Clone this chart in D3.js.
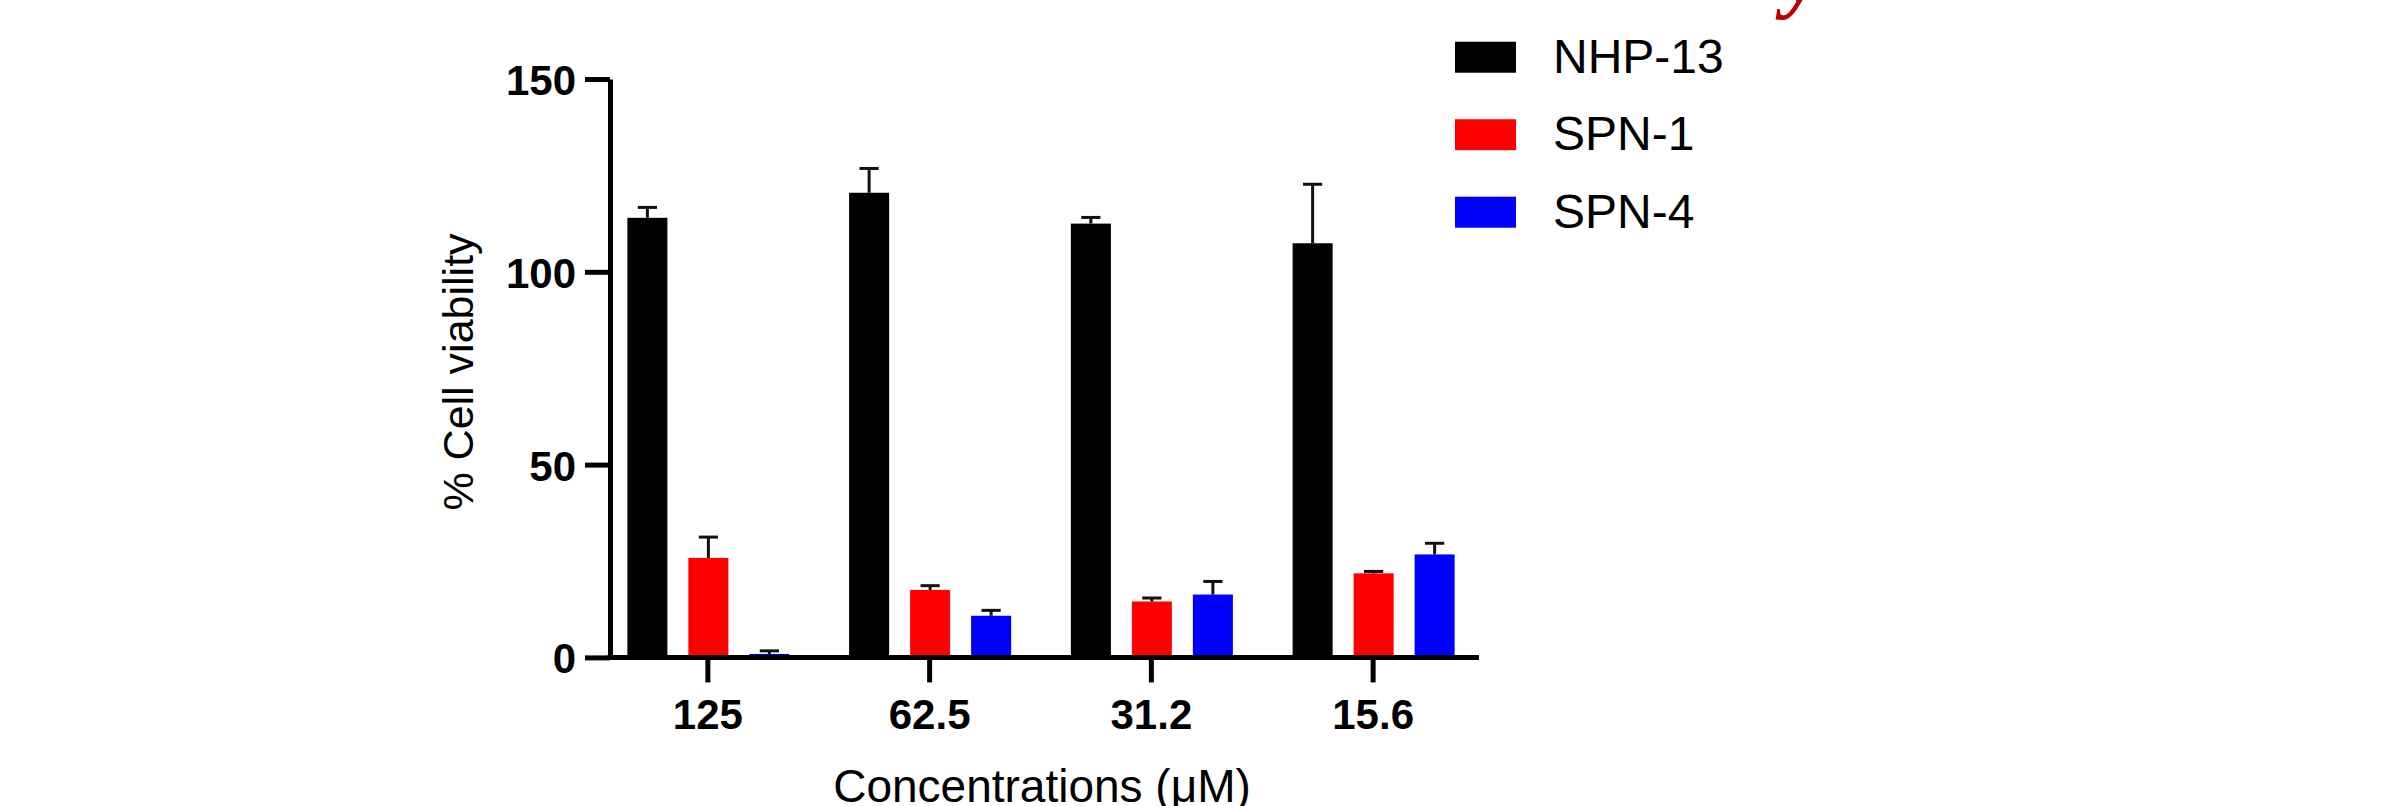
<!DOCTYPE html>
<html>
<head>
<meta charset="utf-8">
<script src="https://cdn.jsdelivr.net/npm/d3@7"></script>
<style>
  body { margin: 0; background: #fff; }
  svg { display: block; }
</style>
</head>
<body>
<div id="chart"></div>
<script>
const concentrations = ['125', '62.5', '31.2', '15.6'];
const seriesNames = ['NHP-13', 'SPN-1', 'SPN-4'];
const seriesColors = ['#000000', '#ff0000', '#0000ff'];

// mean values per concentration, one array per series
const nhp13 = [114.0, 120.5, 112.5, 107.4];
const spn1 = [25.8, 17.5, 14.5, 21.8];
const spn4 = [0.9, 10.8, 16.3, 26.7];

// upper error (SD) per concentration
const nhp13Err = [2.7, 6.3, 1.6, 15.3];
const spn1Err = [5.4, 1.1, 0.9, 0.5];
const spn4Err = [0.8, 1.4, 3.4, 2.9];

const yTicks = [0, 50, 100, 150];

const width = 2382;
const height = 806;

const means = [nhp13, spn1, spn4];
const errs = [nhp13Err, spn1Err, spn4Err];

const rows = [];
concentrations.forEach((c, i) => {
    seriesNames.forEach((s, j) => {
        rows.push({ conc: c, series: s, value: means[j][i], err: errs[j][i], color: seriesColors[j] });
    });
});

const svg = d3.select('#chart')
    .append('svg')
    .attr('width', width)
    .attr('height', height);

const axisX = 610;

const y = d3.scaleLinear()
    .domain([0, 150])
    .range([657.4, 79]);

const x = d3.scaleBand()
    .domain(concentrations)
    .range([597, 1484]);

const inner = d3.scaleBand()
    .domain(seriesNames)
    .range([-91, 92])
    .paddingInner(0.344)
    .paddingOuter(0.172);

const font = '"Liberation Sans", Arial, Helvetica, sans-serif';
const barX = d => x(d.conc) + x.bandwidth() / 2 + inner(d.series);

// bars
svg.append('g')
    .selectAll('rect')
    .data(rows)
    .join('rect')
    .attr('x', barX)
    .attr('y', d => y(d.value))
    .attr('width', inner.bandwidth())
    .attr('height', d => y(0) - y(d.value))
    .style('fill', d => d.color);

// error bars, upper only
const capW = inner.bandwidth() * 0.48;
const eb = svg.append('g')
    .style('stroke', '#111')
    .style('stroke-width', 3);

eb.selectAll('line.stem')
    .data(rows)
    .join('line')
    .attr('class', 'stem')
    .attr('x1', d => barX(d) + inner.bandwidth() / 2)
    .attr('x2', d => barX(d) + inner.bandwidth() / 2)
    .attr('y1', d => y(d.value))
    .attr('y2', d => y(d.value + d.err));

eb.selectAll('line.cap')
    .data(rows)
    .join('line')
    .attr('class', 'cap')
    .attr('x1', d => barX(d) + inner.bandwidth() / 2 - capW / 2)
    .attr('x2', d => barX(d) + inner.bandwidth() / 2 + capW / 2)
    .attr('y1', d => y(d.value + d.err))
    .attr('y2', d => y(d.value + d.err));

// y axis
const gy = svg.append('g')
    .attr('transform', `translate(${axisX},0)`)
    .call(d3.axisLeft(y).tickValues(yTicks).tickSize(25).tickSizeOuter(0).tickPadding(9));

gy.select('.domain').style('stroke', '#000').style('stroke-width', 5);
gy.selectAll('.tick line').style('stroke', '#000').style('stroke-width', 5);
gy.selectAll('.tick text')
    .attr('dy', '0.37em')
    .style('font-family', font)
    .style('font-weight', 'bold')
    .style('font-size', '42px')
    .style('fill', '#000');

// x axis
const gx = svg.append('g')
    .attr('transform', `translate(0,${y(0)})`)
    .call(d3.axisBottom(x).tickSize(25).tickSizeOuter(0));

gx.select('.domain').remove();
gx.append('line')
    .attr('x1', axisX - 2.5)
    .attr('x2', x.range()[1] - 5)
    .style('stroke', '#000')
    .style('stroke-width', 5);
gx.selectAll('.tick line').style('stroke', '#000').style('stroke-width', 5);
gx.selectAll('.tick text')
    .attr('y', 71.6)
    .attr('dy', 0)
    .style('font-family', font)
    .style('font-weight', 'bold')
    .style('font-size', '42px')
    .style('fill', '#000');

// axis titles
svg.append('text')
    .attr('transform', 'translate(473,372) rotate(-90)')
    .attr('text-anchor', 'middle')
    .style('font-family', font)
    .style('font-size', '43px')
    .style('fill', '#000')
    .text('% Cell viability');

svg.append('text')
    .attr('x', 1042)
    .attr('y', 802)
    .attr('text-anchor', 'middle')
    .style('font-family', font)
    .style('font-size', '46px')
    .style('fill', '#000')
    .text('Concentrations (μM)');

// legend
const legend = svg.append('g')
    .attr('transform', 'translate(1455,41.7)');

const item = legend.selectAll('g')
    .data(seriesNames)
    .join('g')
    .attr('transform', (d, i) => `translate(0,${i * 77.5})`);

item.append('rect')
    .attr('width', 61)
    .attr('height', 31)
    .style('fill', (d, i) => seriesColors[i]);

item.append('text')
    .attr('x', 98)
    .attr('y', 31)
    .style('font-family', font)
    .style('font-size', '48px')
    .style('fill', '#000')
    .text(d => d);

// descender of a cut-off red heading above the figure
svg.append('text')
    .attr('x', 1784)
    .attr('y', 2)
    .style('font-family', '"Liberation Serif", "Times New Roman", serif')
    .style('font-style', 'italic')
    .style('font-weight', 'bold')
    .style('font-size', '84px')
    .style('fill', '#c00000')
    .text('y');
</script>
</body>
</html>
